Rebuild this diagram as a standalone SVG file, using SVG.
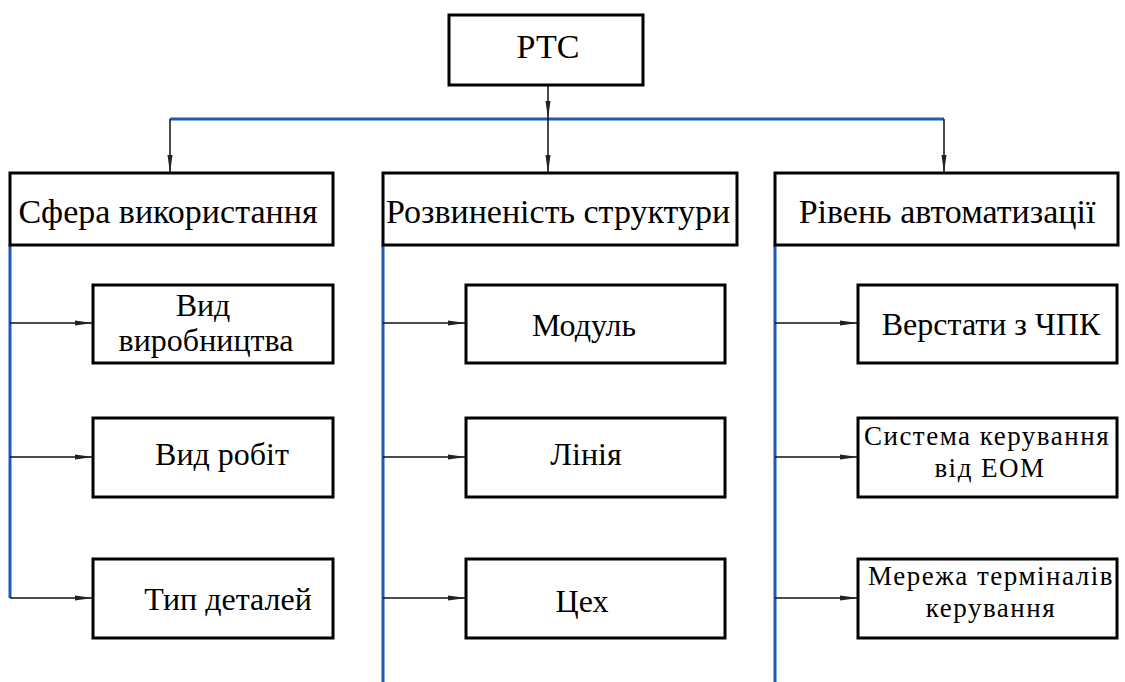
<svg xmlns="http://www.w3.org/2000/svg" width="1125" height="682" viewBox="0 0 1125 682">
<style>
.box{fill:#fff;stroke:#000;stroke-width:3}
text{font-family:'Liberation Serif','Times New Roman','DejaVu Serif',serif;fill:#000;text-anchor:middle}
.cat{font-size:34px}
.ch{font-size:32px}
.sm{font-size:27px;letter-spacing:1.5px}
.blue{stroke:#1f5bb5;stroke-width:3;fill:none}
.ar{stroke:#111;stroke-width:1.5;fill:none;marker-end:url(#ah)}
</style>
<defs>
<marker id="ah" viewBox="0 0 18 6" refX="18" refY="3" markerWidth="18" markerHeight="6" markerUnits="userSpaceOnUse" orient="auto">
<path d="M0,0.5 L18,3 L0,5.5 z" fill="#222"/>
</marker>
</defs>
<rect width="1125" height="682" fill="#fff"/>
<g id="connectors">
<path class="blue" d="M170,119 H944"/>
<path class="blue" d="M10,245 V598"/>
<path class="blue" d="M383,245 V682"/>
<path class="blue" d="M775,245 V682"/>
<path class="ar" d="M548,85 V119"/>
<path class="ar" d="M548,119 V173"/>
<path class="ar" d="M170,119 V173"/>
<path class="ar" d="M944,119 V173"/>
<path class="ar" d="M10,323 H93"/>
<path class="ar" d="M10,457 H93"/>
<path class="ar" d="M10,598 H93"/>
<path class="ar" d="M383,323 H466"/>
<path class="ar" d="M383,457 H466"/>
<path class="ar" d="M383,598 H466"/>
<path class="ar" d="M775,323 H858"/>
<path class="ar" d="M775,457 H858"/>
<path class="ar" d="M775,598 H858"/>
</g>
<g id="rtc"><rect class="box" x="449" y="15" width="194" height="70"/><text class="cat" x="548" y="58" font-family="Liberation Serif">РТС</text></g>
<g id="sfera"><rect class="box" x="10" y="173" width="323" height="72"/><text class="cat" x="168" y="223">Сфера використання</text></g>
<g id="rozv"><rect class="box" x="383" y="173" width="354" height="72"/><text class="cat" x="558" y="223">Розвиненість структури</text></g>
<g id="riven"><rect class="box" x="775" y="173" width="343" height="72"/><text class="cat" x="947" y="223">Рівень автоматизації</text></g>
<g id="vyd-vyr"><rect class="box" x="93" y="285" width="240" height="78"/><text class="ch" x="203" y="316">Вид</text><text class="ch" x="206" y="351">виробництва</text></g>
<g id="vyd-rob"><rect class="box" x="93" y="418" width="240" height="79"/><text class="ch" x="222" y="465">Вид робіт</text></g>
<g id="typ"><rect class="box" x="93" y="559" width="240" height="79"/><text class="ch" x="228" y="610">Тип деталей</text></g>
<g id="modul"><rect class="box" x="466" y="285" width="259" height="78"/><text class="ch" x="584" y="336">Модуль</text></g>
<g id="liniya"><rect class="box" x="466" y="418" width="259" height="79"/><text class="ch" x="586" y="465">Лінія</text></g>
<g id="tsekh"><rect class="box" x="466" y="559" width="259" height="79"/><text class="ch" x="582" y="612">Цех</text></g>
<g id="verst"><rect class="box" x="858" y="285" width="259" height="78"/><text class="ch" x="991" y="335">Верстати з ЧПК</text></g>
<g id="syst"><rect class="box" x="858" y="418" width="259" height="79"/><text class="sm" x="987" y="445">Система керування</text><text class="sm" x="990" y="477">від ЕОМ</text></g>
<g id="merezha"><rect class="box" x="858" y="559" width="259" height="79"/><text class="sm" x="991" y="585">Мережа терміналів</text><text class="sm" x="991" y="617">керування</text></g>
</svg>
